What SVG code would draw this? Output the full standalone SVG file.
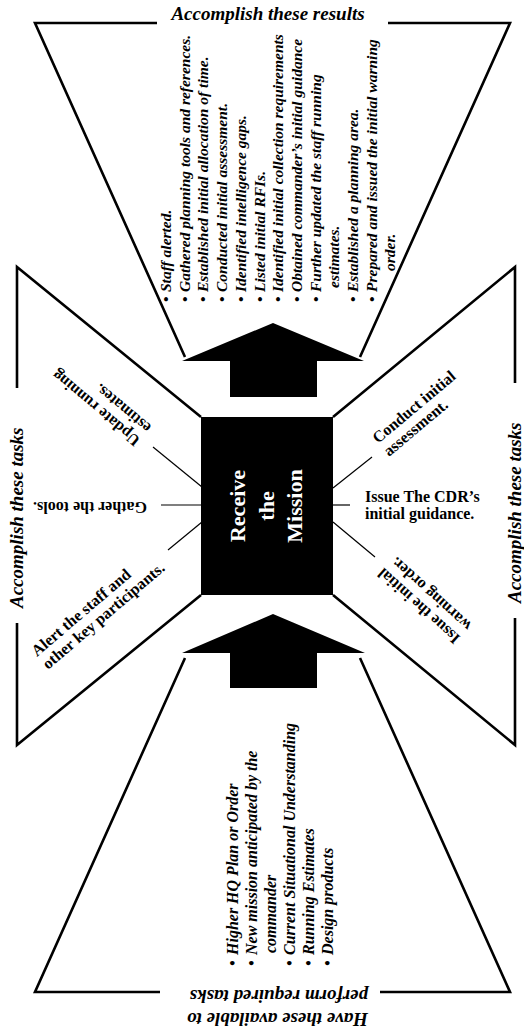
<svg xmlns="http://www.w3.org/2000/svg" width="524" height="1029" viewBox="0 0 524 1029">
<style>
.o{fill:none;stroke:#000;stroke-width:2.6;stroke-linejoin:miter}
.c{fill:none;stroke:#000;stroke-width:1.2}
.h{font-family:"Liberation Serif","Times New Roman",serif;font-weight:bold;font-style:italic;font-size:19px;fill:#000}
.li{font-family:"Liberation Serif","Times New Roman",serif;font-weight:bold;font-style:italic;font-size:15.5px;fill:#000}
.lb{font-family:"Liberation Serif","Times New Roman",serif;font-weight:bold;font-style:italic;font-size:16px;fill:#000}
.t{font-family:"Liberation Serif","Times New Roman",serif;font-weight:bold;font-size:16px;fill:#000}
.m{font-family:"Liberation Serif","Times New Roman",serif;font-weight:bold;font-size:22px;fill:#fff;text-anchor:middle}
</style>
<rect width="524" height="1029" fill="#fff"/>

<g id="results">
  <polyline class="o" points="157,23 35,23 185,357"/>
  <polyline class="o" points="388,23 510,23 360,357"/>
  <text class="h" x="268" y="20" text-anchor="middle">Accomplish these results</text>
  <g transform="rotate(-90)" class="li">
    <text x="-302" y="171">•</text><text x="-292" y="171">Staff alerted.</text>
    <text x="-302" y="189.7">•</text><text x="-292" y="189.7">Gathered planning tools and references.</text>
    <text x="-302" y="208.4">•</text><text x="-292" y="208.4">Established initial allocation of time.</text>
    <text x="-302" y="227.1">•</text><text x="-292" y="227.1">Conducted initial assessment.</text>
    <text x="-302" y="245.8">•</text><text x="-292" y="245.8">Identified intelligence gaps.</text>
    <text x="-302" y="264.5">•</text><text x="-292" y="264.5">Listed initial RFIs.</text>
    <text x="-302" y="283.2">•</text><text x="-292" y="283.2">Identified initial collection requirements</text>
    <text x="-302" y="301.9">•</text><text x="-292" y="301.9">Obtained commander’s initial guidance</text>
    <text x="-302" y="320.6">•</text><text x="-292" y="320.6">Further updated the staff running</text>
    <text x="-288" y="339.3">estimates.</text>
    <text x="-302" y="358">•</text><text x="-292" y="358">Established a planning area.</text>
    <text x="-302" y="376.7">•</text><text x="-292" y="376.7">Prepared and issued the initial warning</text>
    <text x="-271" y="395.4">order.</text>
  </g>
</g>

<g id="arrow-top">
  <polygon points="273,323 364,361 317,361 317,397 230,397 230,361 182,361" fill="#000"/>
</g>

<g id="mission">
  <rect x="201" y="417" width="132" height="178" fill="#000"/>
  <g transform="rotate(-90)">
    <text class="m" x="-506" y="245">Receive</text>
    <text class="m" x="-506" y="274">the</text>
    <text class="m" x="-506" y="302">Mission</text>
  </g>
</g>

<g id="arrow-bottom">
  <polygon points="273,614 365,653 317,653 317,688 230,688 230,653 182,653" fill="#000"/>
</g>

<g id="left-tasks">
  <polyline class="o" points="17,388 17,267 201,417"/>
  <polyline class="o" points="17,623 17,745 201,595"/>
  <text class="h" transform="rotate(-90)" x="-608" y="23">Accomplish these tasks</text>
  <text class="t" transform="translate(141,439) rotate(220)"><tspan x="0" y="0">Update running</tspan><tspan x="0" y="17">estimates.</tspan></text>
  <text class="t" transform="translate(147,502) rotate(180)" x="0" y="0">Gather the tools.</text>
  <text class="t" transform="translate(37,657) rotate(-40.5)"><tspan x="0" y="0">Alert the staff and</tspan><tspan x="0" y="17">other key participants.</tspan></text>
</g>

<g id="right-tasks">
  <polyline class="o" points="515,383 515,267 333,417"/>
  <polyline class="o" points="515,618 515,745 333,595"/>
  <text class="h" transform="rotate(-90)" x="-603" y="521">Accomplish these tasks</text>
  <text class="t" transform="translate(378,444) rotate(-40)"><tspan x="0" y="0">Conduct initial</tspan><tspan x="0" y="17">assessment.</tspan></text>
  <text class="t"><tspan x="365" y="502">Issue The CDR’s</tspan><tspan x="365" y="519">initial guidance.</tspan></text>
  <text class="t" transform="translate(461,637) rotate(222)"><tspan x="0" y="0">Issue the initial</tspan><tspan x="0" y="17">warning order.</tspan></text>
</g>

<g id="inputs">
  <polyline class="o" points="160,992 35,992 185,658"/>
  <polyline class="o" points="380,992 510,992 360,658"/>
  <g transform="translate(368,1013) rotate(180)" class="h">
    <text x="0" y="0">Have these available to</text>
    <text x="0" y="23">perform required tasks</text>
  </g>
  <g transform="rotate(-90)" class="lb">
    <text x="-966" y="238">•</text><text x="-955" y="238">Higher HQ Plan or Order</text>
    <text x="-966" y="257">•</text><text x="-955" y="257">New mission anticipated by the</text>
    <text x="-953" y="276">commander</text>
    <text x="-966" y="295">•</text><text x="-955" y="295">Current Situational Understanding</text>
    <text x="-966" y="314">•</text><text x="-955" y="314">Running Estimates</text>
    <text x="-966" y="333">•</text><text x="-955" y="333">Design products</text>
  </g>
</g>

<g id="connectors">
  <line class="c" x1="202" y1="487" x2="153" y2="447"/>
  <line class="c" x1="202" y1="505" x2="161" y2="505"/>
  <line class="c" x1="202" y1="522" x2="168" y2="550"/>
  <line class="c" x1="333" y1="488" x2="372" y2="457"/>
  <line class="c" x1="333" y1="505" x2="350" y2="505"/>
  <line class="c" x1="333" y1="522" x2="375" y2="557"/>
</g>
</svg>
